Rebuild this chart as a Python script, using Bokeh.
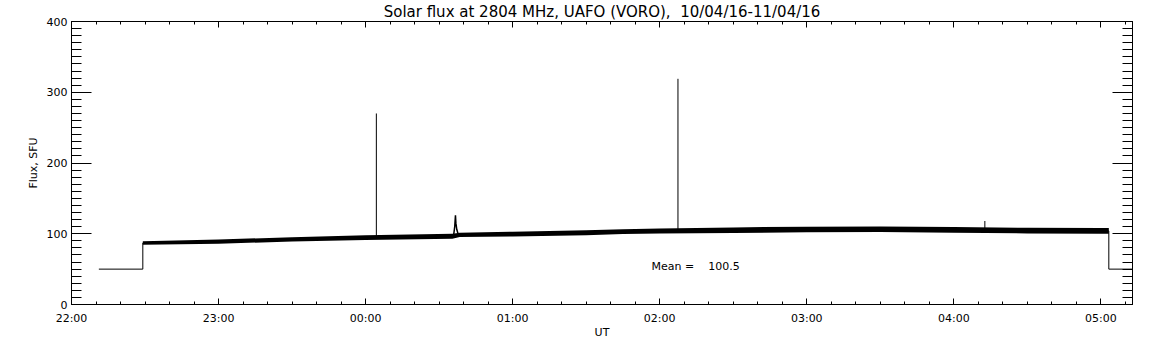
from bokeh.plotting import figure
from bokeh.models import Range1d, FixedTicker, LinearAxis, Label
from bokeh.embed import file_html
from bokeh.resources import INLINE

NBSP = "\u00a0"
TITLE = "Solar flux at 2804 MHz, UAFO (VORO)," + NBSP + " 10/04/16-11/04/16"
X_LABEL = "UT"
Y_LABEL = "Flux, SFU"
MEAN = 100.5

# time in hours (values >= 24 are after midnight)
X_START = 22.0
X_END = 29.215
tick_hours = [22, 23, 24, 25, 26, 27, 28, 29]
tick_labels = ["22:00", "23:00", "00:00", "01:00", "02:00", "03:00", "04:00", "05:00"]
minor_minutes = [10, 20, 30, 40, 50]
y_ticks = [0, 100, 200, 300, 400]

# off-source level before / after the solar record
pre_time = [22.186, 22.485]
pre_flux = [50, 50]
post_time = [29.054, 29.25]
post_flux = [50, 50]

# solar record: centre of the noisy trace and the edges of its noise band
main_time = [22.485, 23.0, 23.5, 24.0, 24.59, 24.64, 25.0, 25.5, 25.75, 26.0,
             26.5, 27.0, 27.5, 28.0, 28.5, 29.0, 29.054]
main_flux = [87.0, 89.0, 92.0, 94.5, 96.5, 98.5, 99.5, 101.5, 103.0, 104.0,
             105.0, 106.0, 106.3, 105.5, 104.5, 104.0, 104.0]
main_low = [84.5, 86.0, 89.0, 91.0, 93.0, 95.5, 96.0, 98.0, 99.5, 100.5,
            101.0, 102.0, 102.3, 101.5, 100.5, 100.0, 100.0]
main_high = [89.5, 92.0, 95.0, 98.0, 100.0, 101.5, 103.0, 105.0, 106.5, 107.5,
             109.0, 110.0, 110.3, 109.5, 108.5, 108.0, 108.0]

# narrow bursts
spike_time = [24.073, 26.124, 28.211]
spike_base = [95.0, 104.0, 105.0]
spike_peak = [270.0, 319.0, 118.0]

# small burst near 00:37
bump_time = [24.598, 24.606, 24.611, 24.614, 24.620, 24.630]
bump_flux = [97.0, 110.0, 126.0, 115.0, 106.0, 99.0]

FONT = "DejaVu Sans"

p = figure(width=1152, height=345, x_range=Range1d(X_START, X_END),
           y_range=Range1d(0, 400), output_backend="svg", toolbar_location=None,
           title=TITLE, min_border_left=71, min_border_right=20,
           min_border_top=19, min_border_bottom=41)
p.title.align = "center"
p.title.text_font = FONT
p.title.text_font_size = "15px"
p.title.text_font_style = "normal"
p.title.text_color = "black"
p.title.standoff = 1
p.title.offset = 0
p.grid.visible = False
p.outline_line_color = "black"
p.outline_line_width = 1
p.background_fill_color = "white"
p.border_fill_color = "white"

minor_x = [h + m / 60 for h in tick_hours for m in minor_minutes]
x_ticker = FixedTicker(ticks=tick_hours, minor_ticks=minor_x)
y_ticker = FixedTicker(ticks=y_ticks, minor_ticks=list(range(0, 401, 10)))

xa = p.xaxis[0]
xa.ticker = x_ticker
xa.major_label_overrides = {float(h): l for h, l in zip(tick_hours, tick_labels)}
xa.axis_label = X_LABEL
xa.major_tick_in = 6
xa.major_tick_out = 0
xa.minor_tick_in = 3
xa.minor_tick_out = 0
xa.major_label_standoff = 7
xa.axis_label_standoff = -2

ya = p.yaxis[0]
ya.ticker = y_ticker
ya.axis_label = Y_LABEL
ya.major_tick_in = 20
ya.major_tick_out = 0
ya.minor_tick_in = 10
ya.minor_tick_out = 0
ya.major_label_standoff = 4
ya.axis_label_standoff = 4
ya.major_label_orientation = "horizontal"

ra = LinearAxis(ticker=y_ticker, major_tick_in=20, major_tick_out=0,
                minor_tick_in=10, minor_tick_out=0, major_label_standoff=0,
                major_label_overrides={float(v): "" for v in y_ticks})
p.add_layout(ra, "right")
ta = LinearAxis(ticker=x_ticker, major_tick_in=6, major_tick_out=0,
                minor_tick_in=3, minor_tick_out=0, major_label_standoff=0,
                major_label_overrides={float(h): "" for h in tick_hours})
p.add_layout(ta, "above")

for ax in (xa, ya, ra, ta):
    ax.axis_line_color = "black"
    ax.major_tick_line_color = "black"
    ax.minor_tick_line_color = "black"
    ax.major_label_text_font = FONT
    ax.major_label_text_color = "black"
    ax.major_label_text_font_size = "11px"
    ax.axis_label_text_font = FONT
    ax.axis_label_text_font_style = "normal"
    ax.axis_label_text_color = "black"
    ax.axis_label_text_font_size = "11px"

# data
p.varea(x=main_time, y1=main_low, y2=main_high, color="black")
p.line(main_time, main_flux, color="black", line_width=1)
p.line(pre_time + [main_time[0]], pre_flux + [main_flux[0]], color="black", line_width=1)
p.line([main_time[-1]] + post_time, [main_flux[-1]] + post_flux, color="black", line_width=1)
p.segment(x0=spike_time, y0=spike_base, x1=spike_time, y1=spike_peak,
          color="black", line_width=1)
p.line(bump_time, bump_flux, color="black", line_width=1.5)

mean_text = "Mean = " + f"{MEAN:8.1f}".replace(" ", NBSP)
p.add_layout(Label(x=25.944, y=54.3, text=mean_text,
                   text_align="left", text_baseline="middle",
                   text_font=FONT, text_font_size="11px", text_color="black"))

open("out.html", "w").write(file_html(p, INLINE))
